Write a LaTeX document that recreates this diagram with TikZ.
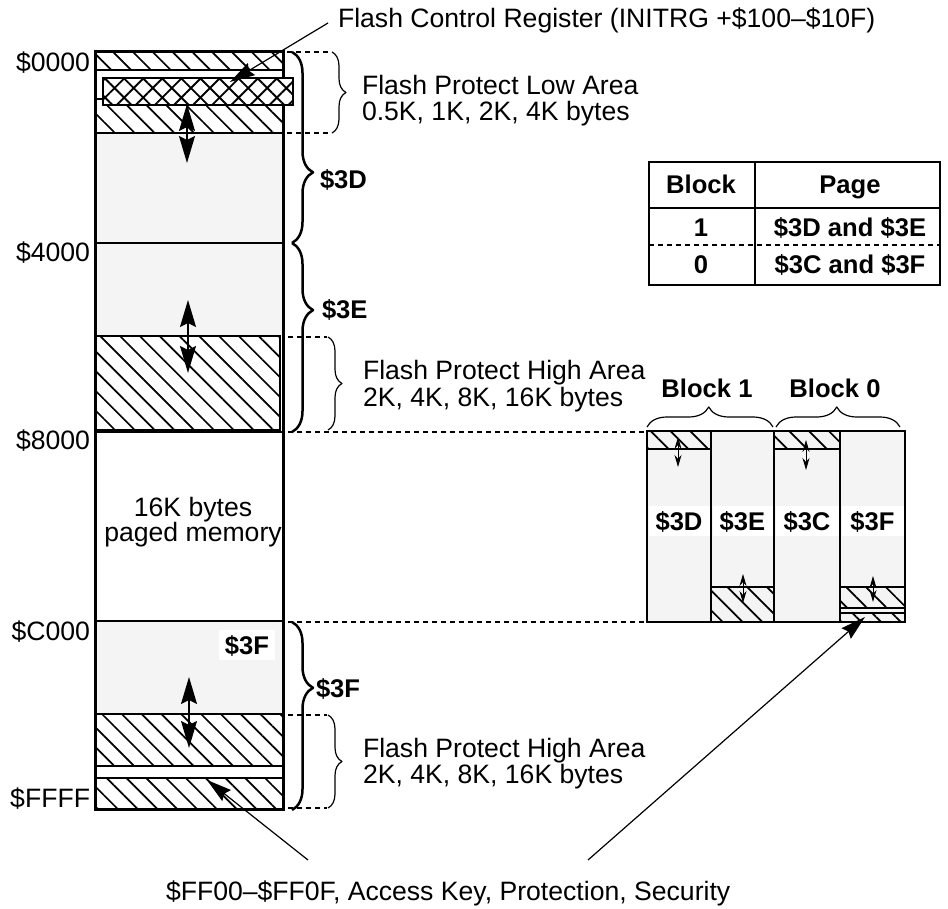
\documentclass[tikz,border=0pt]{standalone}
\usepackage{fontspec}
\setmainfont{Liberation Sans}
\usetikzlibrary{arrows.meta,patterns.meta,decorations.pathreplacing}
\definecolor{pale}{HTML}{F4F4F4}
\begin{document}
\begin{tikzpicture}[x=1pt,y=-1pt,
  every node/.style={inner sep=0pt,outer sep=0pt,font=\fontsize{26.6}{26.6}\selectfont},
  bf/.style={font=\fontsize{25.6}{26}\selectfont\bfseries},
  hatch/.style={pattern={Lines[angle=-45,distance=14pt,line width=1.7pt]}},
  xhatch/.style={pattern={Hatch[angle=45,distance=13.5pt,line width=1.9pt]}},
  dashline/.style={line width=1.1pt,dash pattern=on 5pt off 4pt},
  bigbrace/.style={line width=2.5pt,decorate,line join=round},
  thinbrace/.style={line width=1.2pt,decorate,line join=round},
  bigarr/.style={line width=1.5pt,{Stealth[length=27pt,width=16pt,inset=4pt]}-{Stealth[length=27pt,width=16pt,inset=4pt]}},
  smallarr/.style={line width=1pt,{Stealth[length=12pt,width=7pt]}-{Stealth[length=12pt,width=7pt]}},
  leader/.style={line width=1.2pt,-{Stealth[length=25pt,width=14pt,inset=3pt]}},
  colname/.style={bf,fill=white,minimum height=30pt,text height=19pt,text depth=0pt}
]
\useasboundingbox (0,0) rectangle (948,909);

% ---------- main column fills ----------
\fill[pale] (96,133) rectangle (282,336);
\fill[pale] (96,621) rectangle (282,714);
\path[hatch] (96,52) rectangle (282,70);
\path[hatch] (96,105) rectangle (282,133);
\draw[hatch,line width=1.6pt] (96,336) rectangle (280,430);
\path[hatch] (96,714) rectangle (282,766);
\path[hatch] (96,778) rectangle (282,809);

% ---------- main column lines ----------
\draw[line width=2pt] (95,70) -- (283,70);
\draw[line width=2pt] (95,133) -- (283,133);
\draw[line width=2.5pt] (95,243) -- (283,243);
\draw[line width=2.5pt] (95,432) -- (283,432);
\draw[line width=2.5pt] (95,621) -- (283,621);
\draw[line width=1.6pt] (95,714) -- (283,714);
\draw[line width=1.6pt] (95,766) -- (283,766);
\draw[line width=1.6pt] (95,778) -- (283,778);
\draw[line width=3pt] (95,52) rectangle (283,809);
\fill[white] (103,78) rectangle (293,105);
\draw[xhatch,line width=1.8pt] (103,78) rectangle (293,105);
\draw[line width=1.5pt] (95,99) -- (103,99);

% ---------- address labels ----------
\node[anchor=base east] (a0000) at (90,72) {\$0000};
\node[anchor=base east] (a4000) at (90,262) {\$4000};
\node[anchor=base east] (a8000) at (90,449) {\$8000};
\node[anchor=base east] (aC000) at (90,640) {\$C000};
\node[anchor=base east] (aFFFF) at (90,807) {\$FFFF};

% ---------- texts in column ----------
\node[anchor=base] (m1) at (193,516) {16K bytes};
\node[anchor=base] (m2) at (193,541) {paged memory};
\node[colname,minimum width=56pt] (p3Fl) at (247,645) {\$3F};

% ---------- dashed guides ----------
\draw[dashline] (287,52) -- (332,52);
\draw[dashline] (287,133) -- (332,133);
\draw[dashline] (288,337) -- (327,337);
\draw[dashline] (288,432) -- (647,432);
\draw[dashline] (288,622) -- (647,622);
\draw[dashline] (288,715) -- (327,715);
\draw[dashline] (288,808) -- (327,808);

% ---------- braces ----------
\draw[bigbrace,decoration={brace,amplitude=21pt,aspect=0.63}] (292,52) -- (292,243);
\draw[bigbrace,decoration={brace,amplitude=21pt,aspect=0.355}] (292,243) -- (292,432);
\draw[bigbrace,decoration={brace,amplitude=21pt,aspect=0.35}] (292,622) -- (292,810);
\draw[thinbrace,decoration={brace,amplitude=14pt}] (332,52) -- (332,133);
\draw[thinbrace,decoration={brace,amplitude=14pt}] (328,337) -- (328,430);
\draw[thinbrace,decoration={brace,amplitude=14pt}] (328,715) -- (328,808);
\draw[thinbrace,decoration={brace,amplitude=20pt,aspect=0.49}] (647,427) -- (773,427);
\draw[thinbrace,decoration={brace,amplitude=20pt,aspect=0.49}] (776,427) -- (900,427);

\node[bf,anchor=base west] (l3D) at (320,189) {\$3D};
\node[bf,anchor=base west] (l3E) at (322,319) {\$3E};
\node[bf,anchor=base west] (l3F) at (316,697) {\$3F};

\node[anchor=base west] (low1) at (362,95) {Flash Protect Low Area};
\node[anchor=base west] (low2) at (362,121) {0.5K, 1K, 2K, 4K bytes};
\node[anchor=base west] (hiA1) at (363,380) {Flash Protect High Area};
\node[anchor=base west] (hiA2) at (363,406) {2K, 4K, 8K, 16K bytes};
\node[anchor=base west] (hiB1) at (363,757) {Flash Protect High Area};
\node[anchor=base west] (hiB2) at (363,783) {2K, 4K, 8K, 16K bytes};

\node[bf,anchor=base] (blk1) at (707,397) {Block 1};
\node[bf,anchor=base] (blk0) at (835,397) {Block 0};

% ---------- right block ----------
\fill[pale] (647,431) rectangle (905,622);
\draw[hatch,line width=1.8pt] (647,431) rectangle (711,449);
\draw[hatch,line width=1.8pt] (774,431) rectangle (840,449);
\draw[hatch,line width=1.8pt] (711,587) rectangle (774,622);
\draw[hatch,line width=1.8pt] (840,587) rectangle (905,608);
\draw[hatch,line width=1.8pt] (840,613) rectangle (905,622);
\draw[line width=2pt] (647,431) rectangle (905,622);
\draw[line width=2pt] (711,431) -- (711,622);
\draw[line width=2pt] (774,431) -- (774,622);
\draw[line width=2pt] (840,431) -- (840,622);
\node[colname,minimum width=61pt] (r3D) at (679,521) {\$3D};
\node[colname,minimum width=60pt] (r3E) at (742.5,521) {\$3E};
\node[colname,minimum width=63pt] (r3C) at (807,521) {\$3C};
\node[colname,minimum width=62pt] (r3F) at (872.5,521) {\$3F};

% ---------- arrows ----------
\coordinate (A1a) at (187,104); \coordinate (A1b) at (187,163);
\coordinate (A2a) at (188,300); \coordinate (A2b) at (188,373);
\coordinate (A3a) at (189,677); \coordinate (A3b) at (189,748);
\draw[bigarr] (A1a) -- (A1b);
\draw[bigarr] (A2a) -- (A2b);
\draw[bigarr] (A3a) -- (A3b);
\coordinate (s1a) at (678,437); \coordinate (s1b) at (678,467);
\coordinate (s2a) at (806,440); \coordinate (s2b) at (806,470);
\coordinate (s3a) at (743,574); \coordinate (s3b) at (743,603);
\coordinate (s4a) at (873,576); \coordinate (s4b) at (873,602);
\draw[smallarr] (s1a) -- (s1b);
\draw[smallarr] (s2a) -- (s2b);
\draw[smallarr] (s3a) -- (s3b);
\draw[smallarr] (s4a) -- (s4b);

% ---------- table ----------
\draw[line width=2pt] (649,162) rectangle (940,285);
\draw[line width=1.5pt] (755,162) -- (755,285);
\draw[line width=1.5pt] (649,208) -- (940,208);
\draw[dashline] (649,245) -- (940,245);
\node[bf,anchor=base] (tB) at (701,194) {Block};
\node[bf,anchor=base] (tP) at (850,194) {Page};
\node[bf,anchor=base] (t1) at (701,237) {1};
\node[bf,anchor=base] (t1p) at (850,237) {\$3D and \$3E};
\node[bf,anchor=base] (t0) at (701,274) {0};
\node[bf,anchor=base] (t0p) at (850,274) {\$3C and \$3F};

% ---------- leaders ----------
\node[anchor=base west] (fcr) at (338,28) {Flash Control Register (INITRG +\$100\textendash\$10F)};
\coordinate (fcrS) at (328,23);
\coordinate (fcrT) at (230,82);
\draw[leader] (fcrS) -- (fcrT);
\node[anchor=base west] (key) at (166,900) {\$FF00\textendash\$FF0F, Access Key, Protection, Security};
\coordinate (kL) at (308,860); \coordinate (kLT) at (207,780);
\coordinate (kR) at (588,860); \coordinate (kRT) at (865,617);
\draw[leader] (kL) -- (kLT);
\draw[leader] (kR) -- (kRT);
\end{tikzpicture}
\end{document}
